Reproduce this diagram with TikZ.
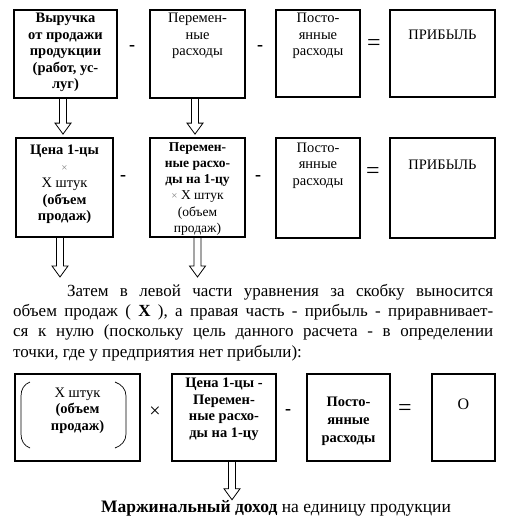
\documentclass[tikz,border=0pt]{standalone}
\usepackage{fontspec}
\setmainfont{Liberation Serif}
\usetikzlibrary{calc, positioning}

\tikzset{
  cell/.style={draw, line width=1.8pt, inner sep=0pt, font=\fontsize{14.5}{16.5}\selectfont},
  op/.style={inner sep=0pt, font=\bfseries\fontsize{18}{18}\selectfont},
  eq/.style={inner sep=0pt, font=\fontsize{24}{24}\selectfont},
  blockarrow/.style={line width=0.8pt, to path={let \p1=(\tikztostart), \p2=(\tikztotarget) in
    (\x1-3.5pt,\y1) -- (\x1-3.5pt,\y2+11pt) -- (\x1-8pt,\y2+11pt) -- (\x1,\y2)
    -- (\x1+8pt,\y2+11pt) -- (\x1+3.5pt,\y2+11pt) -- (\x1+3.5pt,\y1)}}
}
\newcommand{\cellbox}[4]{\parbox[c][#2][t]{#1}{\centering\vspace*{#3}#4}}
\newcommand{\smalltimes}{{\color{gray}\fontsize{11}{11}\selectfont ×}}

\begin{document}
\begin{tikzpicture}[x=1pt, y=-1pt]
\useasboundingbox (0,0) rectangle (517,519);

% first row
\node[cell] (r1a) at (65.5,54) {\cellbox{103pt}{88pt}{3.5pt}{\bfseries Выручка\\ от продажи\\ продукции\\ (работ, ус-\\ луг)}};
\node[cell] (r1b) at (197.5,54) {\cellbox{95pt}{88pt}{3.5pt}{Перемен-\\ ные\\ расходы}};
\node[cell] (r1c) at (318,53.5) {\cellbox{84pt}{87pt}{3.5pt}{Посто-\\ янные\\ расходы}};
\node[cell] (r1d) at (442.5,53.5) {\cellbox{105pt}{87pt}{20.5pt}{ПРИБЫЛЬ}};
\node[op] (r1m1) at (132,48) {-};
\node[op] (r1m2) at (260,48) {-};
\node[eq] (r1eq) at (374,45) {=};

% second row
\node[cell] (r2a) at (64.5,187.5) {\cellbox{97pt}{99pt}{7pt}{\textbf{Цена 1-цы}\\ \smalltimes\\ X штук\\ \textbf{(объем}\\ \textbf{продаж)}}};
\node[cell, font=\fontsize{13.5}{16.2}\selectfont] (r2b) at (197.5,187.5) {\cellbox{95pt}{99pt}{4.5pt}{\textbf{Перемен-}\\ \textbf{ные расхо-}\\ \textbf{ды на 1-цу}\\ \smalltimes{} X штук\\ (объем\\ продаж)}};
\node[cell] (r2c) at (318,188) {\cellbox{84pt}{100pt}{5pt}{Посто-\\ янные\\ расходы}};
\node[cell] (r2d) at (442.5,188) {\cellbox{105pt}{100pt}{22pt}{ПРИБЫЛЬ}};
\node[op] (r2m1) at (123,178) {-};
\node[op] (r2m2) at (258,178) {-};
\node[eq] (r2eq) at (373,173) {=};

\draw[blockarrow] ([xshift=-2.5pt]r1a.south) to ([yshift=3pt]r2a.north);
\draw[blockarrow] ([xshift=-2.5pt]r1b.south) to ([yshift=3pt]r2b.north);

% ends of the lower arrows
\coordinate (e1) at (60,277);
\coordinate (e2) at (197,277);
\draw[blockarrow] ([xshift=-4.5pt]r2a.south) to (e1);
\draw[blockarrow] (r2b.south) to (e2);

% text
\node[anchor=north west, inner sep=0pt, text width=480pt, align=justify,
  font=\fontsize{17}{20.3}\selectfont] (para) at (13,284)
  {\tolerance=10000\exhyphenpenalty=10000\hyphenpenalty=10000
   \hspace*{54pt}Затем в левой части уравнения за скобку выносится\linebreak
   объем продаж ( \textbf{X} ), а правая часть - прибыль - приравнивает-\linebreak
   ся к нулю (поскольку цель данного расчета - в определении\linebreak
   точки, где у предприятия нет прибыли):};

% third row
\node[cell, line width=1.6pt] (r3a) at (77.5,417.5) {\cellbox{125pt}{87pt}{14pt}{X штук\\ \textbf{(объем}\\ \textbf{продаж)}}};
\draw[line width=0.7pt] (30,382) to[out=200,in=90] (21,396) -- (21,434) to[out=-90,in=160] (30,448);
\draw[line width=0.7pt] (115,382) to[out=-20,in=90] (126,396) -- (126,434) to[out=-90,in=20] (115,448);
\node[cell, line width=1.6pt] (r3b) at (224,417.5) {\cellbox{104pt}{87pt}{4pt}{\bfseries Цена 1-цы -\\ Перемен-\\ ные расхо-\\ ды на 1-цу}};
\node[cell, line width=1.6pt, font=\fontsize{14.5}{18}\selectfont] (r3c) at (348.5,417.5) {\cellbox{83pt}{87pt}{23pt}{\bfseries Посто-\\ янные\\ расходы}};
\node[cell, line width=1.6pt, font=\fontsize{16}{18}\selectfont] (r3d) at (463.5,417.5) {\cellbox{63pt}{87pt}{25pt}{O}};
\node[inner sep=0pt, font=\fontsize{20}{20}\selectfont] (r3x) at (155,412) {×};
\node[op] (r3m) at (288,412) {-};
\node[eq] (r3eq) at (405,410) {=};

\node[anchor=base, inner sep=0pt, font=\fontsize{17.5}{18}\selectfont] (margin) at (276,512)
  {\textbf{Маржинальный доход} на единицу продукции};
\draw[blockarrow] ([xshift=8pt]r3b.south) to (margin.north);
\end{tikzpicture}
\end{document}
